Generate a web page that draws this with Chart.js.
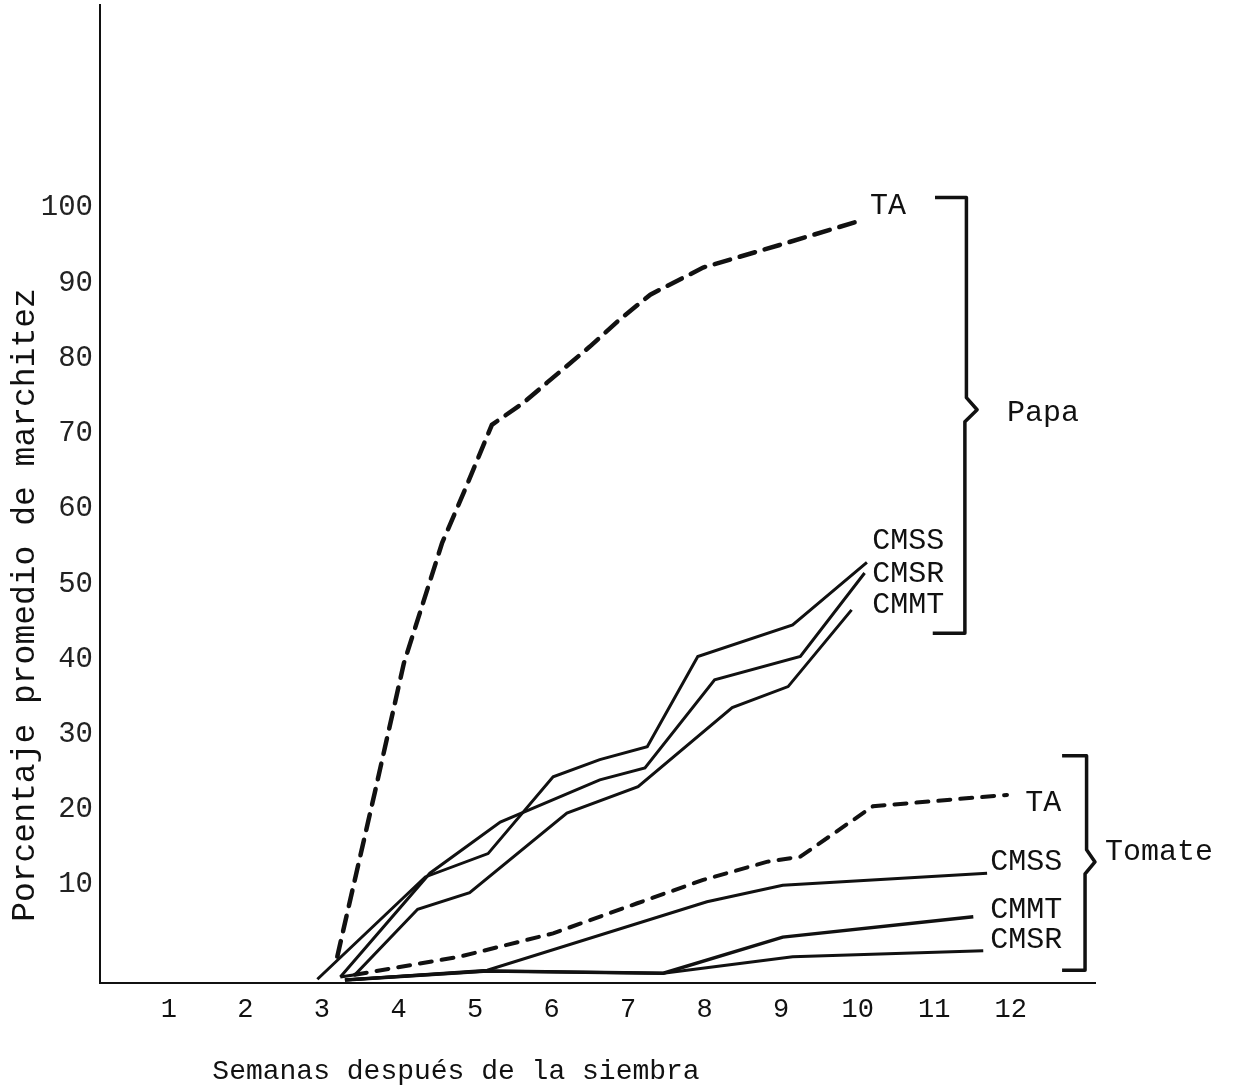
<!DOCTYPE html>
<html lang="es">
<head>
<meta charset="UTF-8">
<title>Porcentaje promedio de marchitez</title>
<script src="https://cdn.jsdelivr.net/npm/chart.js@4.4.4/dist/chart.umd.min.js"></script>
<style>
  html, body { margin: 0; padding: 0; background: #fff; }
  .wrap { position: relative; width: 1234px; height: 1092px; }
</style>
</head>
<body>
<div class="wrap"><canvas id="chart"></canvas></div>
<script>
// eje x: semanas, eje y: % de marchitez
const weekTicks = [1, 2, 3, 4, 5, 6, 7, 8, 9, 10, 11, 12]
const pctTicks = [10, 20, 30, 40, 50, 60, 70, 80, 90, 100]

// Papa
const papaTAWeeks = [3.2, 3.33, 3.69, 4.07, 4.57, 4.87, 5.22, 5.63, 5.94, 6.5, 6.89, 7.29, 7.98, 8.98, 9.99]
const papaTAValues = [3.5, 9.3, 25.3, 42.5, 58.5, 65.6, 74.2, 77.1, 79.8, 84.6, 88.2, 91.5, 95.1, 98.1, 101.2]
const papaCMSSWeeks = [2.94, 4.35, 5.17, 6.02, 6.63, 7.25, 7.91, 9.15, 10.12]
const papaCMSSValues = [0.5, 14.1, 17.2, 27.4, 29.7, 31.4, 43.4, 47.6, 55.9]
const papaCMSRWeeks = [3.24, 4.41, 5.33, 6.63, 7.22, 8.13, 9.25, 10.09]
const papaCMSRValues = [0.8, 14.6, 21.4, 27.0, 28.6, 40.3, 43.4, 54.5]
const papaCMMTWeeks = [3.24, 3.43, 4.25, 4.93, 6.2, 7.13, 8.36, 9.09, 9.92]
const papaCMMTValues = [0.8, 1.1, 9.8, 12.0, 22.6, 26.1, 36.6, 39.4, 49.6]

// Tomate
const tomTAWeeks = [3.43, 4.8, 6.02, 7.12, 7.98, 8.81, 9.25, 10.2, 11.95]
const tomTAValues = [1.1, 3.5, 6.6, 10.6, 13.7, 16.1, 16.8, 23.5, 25.0]
const tomCMSSWeeks = [3.3, 5.16, 8.03, 9.02, 11.69]
const tomCMSSValues = [0.4, 1.7, 10.8, 13.0, 14.6]
const tomCMMTWeeks = [3.3, 5.16, 7.46, 9.02, 11.51]
const tomCMMTValues = [0.4, 1.6, 1.3, 6.1, 8.8]
const tomCMSRWeeks = [3.3, 5.16, 7.46, 9.15, 11.64]
const tomCMSRValues = [0.4, 1.6, 1.3, 3.5, 4.3]

const ink = '#111'
const mono = '"Liberation Mono", "DejaVu Sans Mono", monospace'

const pts = (ws, vs) => ws.map((w, i) => ({x: w, y: vs[i]}))
const solid = (label, ws, vs, width = 3) => ({label, data: pts(ws, vs), borderColor: ink, borderWidth: width, pointRadius: 0, tension: 0, fill: false})
const dashed = (label, ws, vs, dash, width) => ({...solid(label, ws, vs, width), borderDash: dash, borderCapStyle: 'round'})

// rótulos y llaves, en coordenadas de semana / porcentaje
const seriesLabels = [
  {text: 'TA', week: 10.16, pct: 103.3},
  {text: 'CMSS', week: 10.19, pct: 58.8},
  {text: 'CMSR', week: 10.19, pct: 54.3},
  {text: 'CMMT', week: 10.19, pct: 50.3},
  {text: 'Papa', week: 11.95, pct: 75.8},
  {text: 'TA', week: 12.19, pct: 23.9},
  {text: 'CMSS', week: 11.73, pct: 16.1},
  {text: 'CMMT', week: 11.73, pct: 9.7},
  {text: 'CMSR', week: 11.73, pct: 5.7},
  {text: 'Tomate', week: 13.23, pct: 17.4},
]
const brackets = [
  [[11.01, 104.4], [11.42, 104.4], [11.42, 77.8], [11.56, 76.2], [11.4, 74.6], [11.4, 46.5], [10.98, 46.5]],
  [[12.67, 30.2], [12.99, 30.2], [12.99, 17.7], [13.1, 16.1], [12.97, 14.5], [12.97, 1.7], [12.67, 1.7]],
]

const notes = {
  id: 'notes',
  afterDraw(chart) {
    const {ctx, scales: {x, y}} = chart
    ctx.save()
    ctx.fillStyle = ink
    ctx.strokeStyle = ink
    ctx.lineWidth = 3.5
    ctx.lineJoin = 'round'
    brackets.forEach((b) => {
      ctx.beginPath()
      b.forEach(([w, p], i) => {
        const px = x.getPixelForValue(w), py = y.getPixelForValue(p)
        i ? ctx.lineTo(px, py) : ctx.moveTo(px, py)
      })
      ctx.stroke()
    })
    ctx.font = `30px ${mono}`
    ctx.textBaseline = 'middle'
    ctx.textAlign = 'left'
    seriesLabels.forEach((l) => ctx.fillText(l.text, x.getPixelForValue(l.week), y.getPixelForValue(l.pct)))

    // títulos de los ejes
    ctx.font = `28px ${mono}`
    ctx.textAlign = 'center'
    ctx.fillText('Semanas después de la siembra', 456, 1072)
    ctx.translate(25, 605)
    ctx.rotate(-Math.PI / 2)
    ctx.font = `33px ${mono}`
    ctx.fillText('Porcentaje promedio de marchitez', 0, 0)
    ctx.restore()
  },
}

new Chart(document.getElementById('chart'), {
  type: 'line',
  data: {
    datasets: [
      dashed('Papa TA', papaTAWeeks, papaTAValues, [16, 10], 4.5),
      solid('Papa CMSS', papaCMSSWeeks, papaCMSSValues),
      solid('Papa CMSR', papaCMSRWeeks, papaCMSRValues),
      solid('Papa CMMT', papaCMMTWeeks, papaCMMTValues),
      dashed('Tomate TA', tomTAWeeks, tomTAValues, [12, 10], 4),
      solid('Tomate CMSS', tomCMSSWeeks, tomCMSSValues),
      solid('Tomate CMMT', tomCMMTWeeks, tomCMMTValues, 3.5),
      solid('Tomate CMSR', tomCMSRWeeks, tomCMSRValues),
    ],
  },
  options: {
    responsive: true,
    maintainAspectRatio: false,
    animation: false,
    layout: {padding: {top: 5, right: 139, bottom: 0, left: 0}},
    plugins: {legend: {display: false}, tooltip: {enabled: false}},
    scales: {
      x: {
        type: 'linear', min: 0.1, max: 13.1,
        afterBuildTicks: (s) => { s.ticks = weekTicks.map((v) => ({value: v})) },
        afterFit: (s) => { s.height = 109; s.paddingLeft = 0; s.paddingRight = 0 },
        grid: {display: false, drawTicks: false},
        border: {color: ink, width: 2},
        ticks: {color: ink, font: {family: mono, size: 27}, padding: 11, maxRotation: 0, autoSkip: false},
      },
      y: {
        type: 'linear', min: 0, max: 130,
        afterBuildTicks: (s) => { s.ticks = pctTicks.map((v) => ({value: v})) },
        afterFit: (s) => { s.width = 100; s.paddingTop = 0; s.paddingBottom = 0 },
        grid: {display: false, drawTicks: false},
        border: {color: ink, width: 2},
        ticks: {color: '#222', font: {family: mono, size: 29}, padding: 7, labelOffset: -23},
      },
    },
  },
  plugins: [notes],
})
</script>
</body>
</html>
